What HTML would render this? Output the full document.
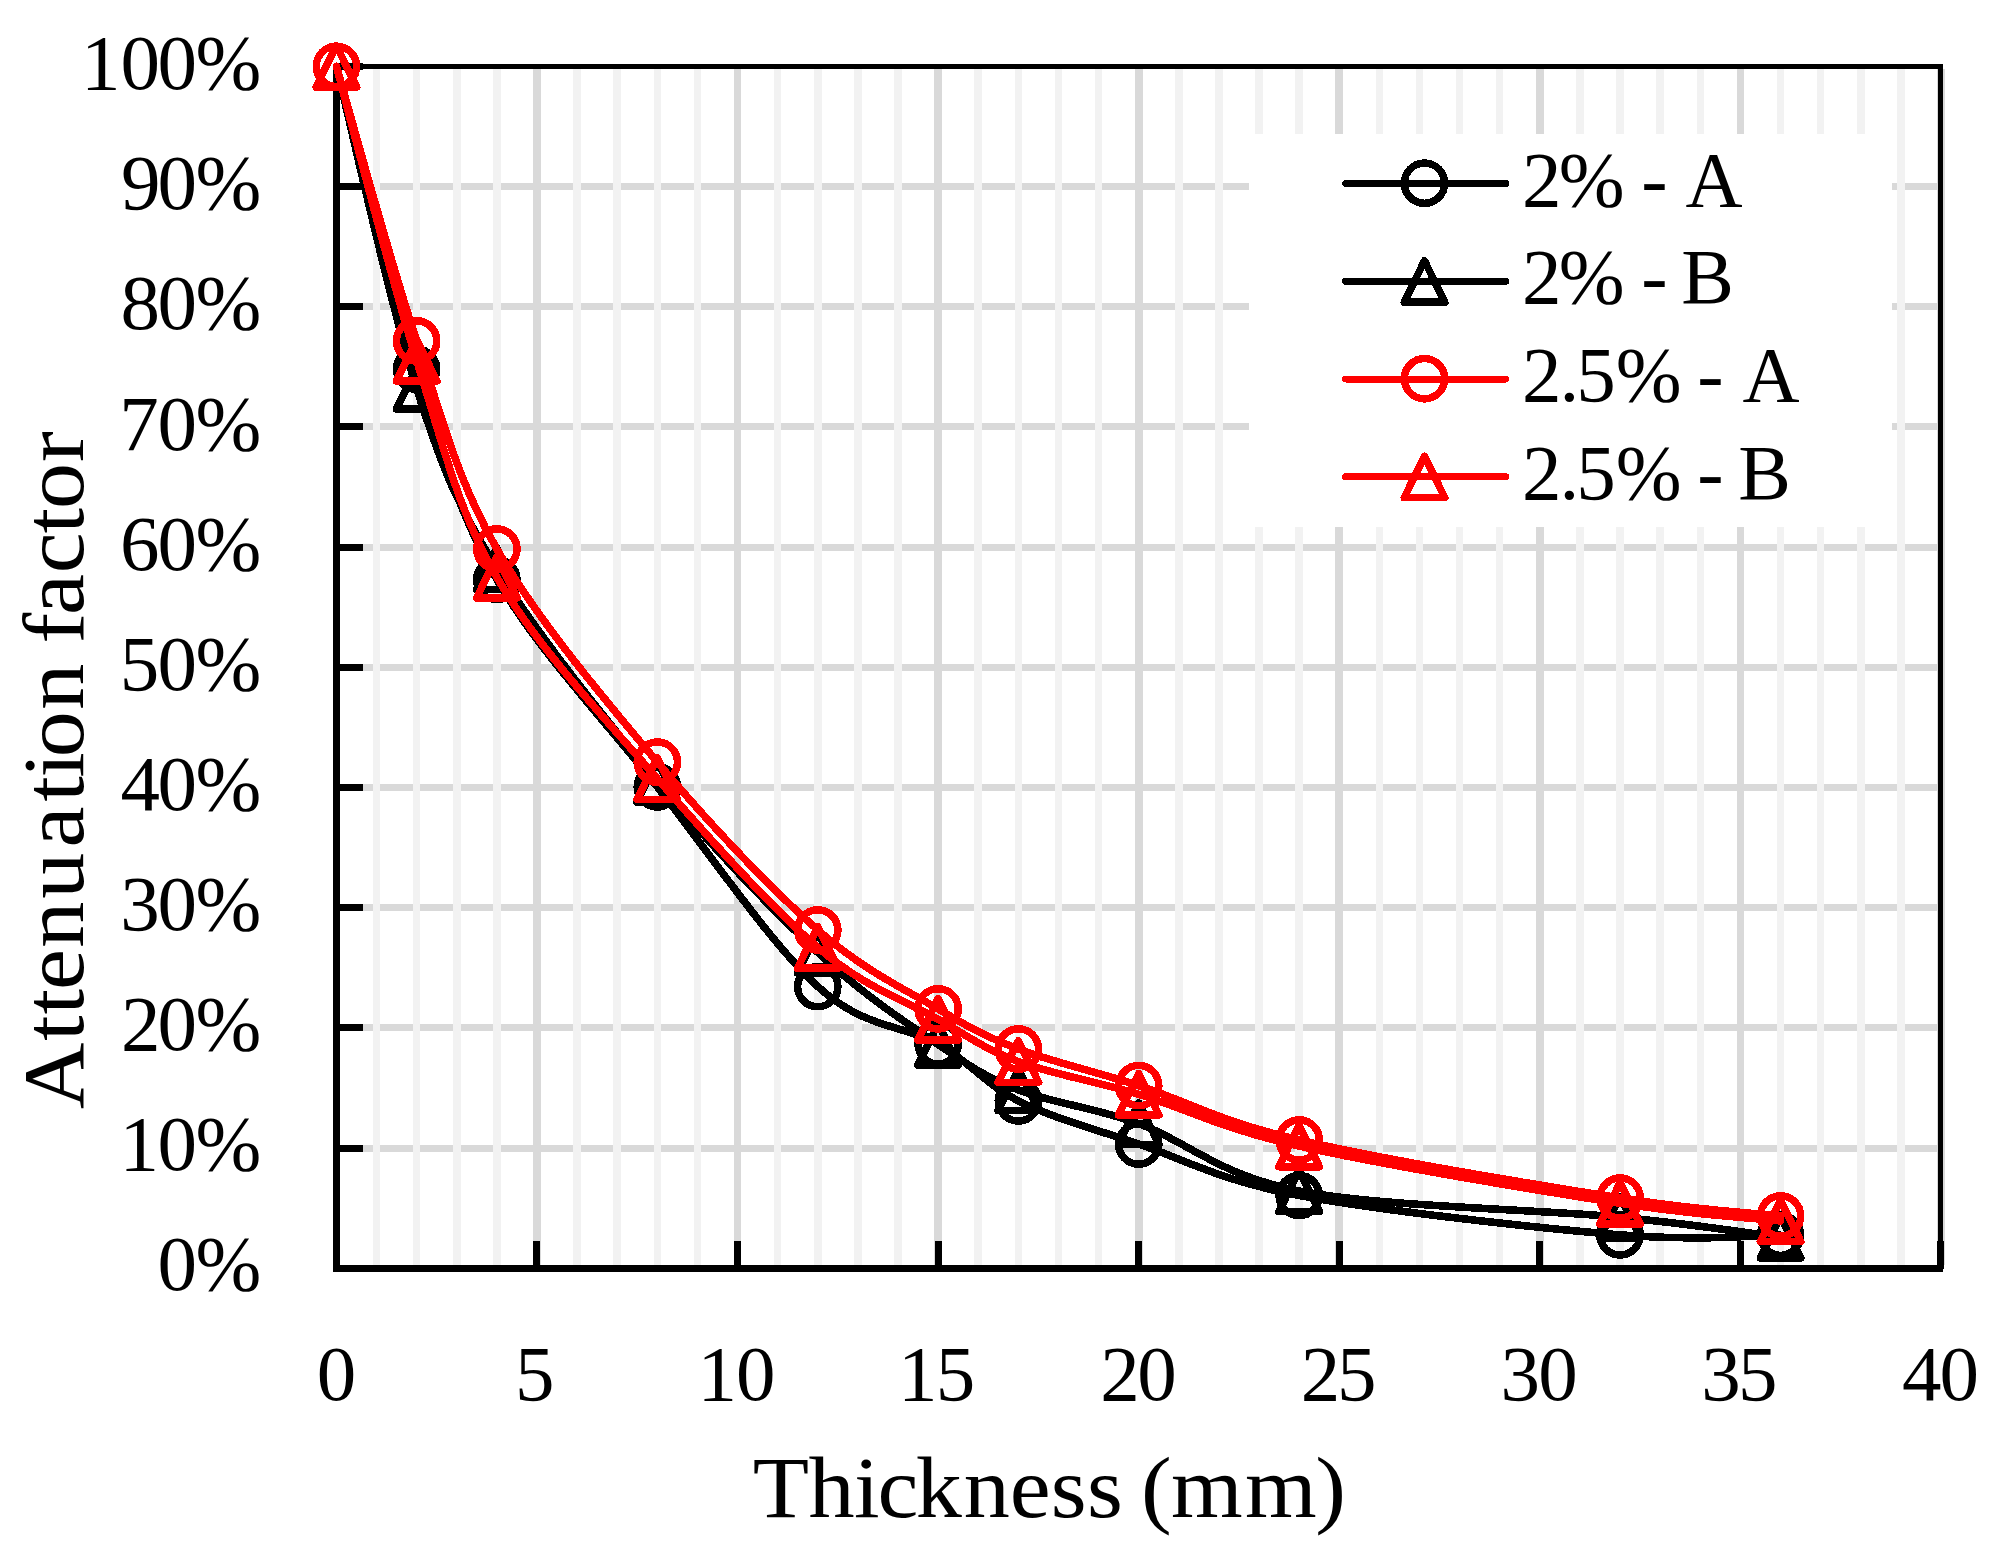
<!DOCTYPE html>
<html lang="en"><head><meta charset="utf-8"><title>Attenuation factor vs Thickness</title>
<style>html,body{margin:0;padding:0;background:#fff}svg{display:block}text{font-family:'Liberation Serif', serif;fill:#000}</style>
</head><body>
<svg width="2010" height="1561" viewBox="0 0 2010 1561">
<rect width="2010" height="1561" fill="#fff"/>
<g stroke="#d9d9d9" stroke-width="7" fill="none" shape-rendering="crispEdges">
<path d="M340 1148 H1937"/>
<path d="M340 1027.5 H1937"/>
<path d="M340 907.5 H1937"/>
<path d="M340 787.5 H1937"/>
<path d="M340 667.5 H1937"/>
<path d="M340 547.5 H1937"/>
<path d="M340 426.5 H1937"/>
<path d="M340 306.5 H1937"/>
<path d="M340 186.5 H1937"/>
</g>
<g stroke="#f2f2f2" stroke-width="7.5" fill="none" shape-rendering="crispEdges">
<path d="M376.51 69 V1265"/>
<path d="M416.63 69 V1265"/>
<path d="M456.75 69 V1265"/>
<path d="M496.86 69 V1265"/>
<path d="M577.09 69 V1265"/>
<path d="M617.2 69 V1265"/>
<path d="M657.32 69 V1265"/>
<path d="M697.43 69 V1265"/>
<path d="M777.66 69 V1265"/>
<path d="M817.78 69 V1265"/>
<path d="M857.89 69 V1265"/>
<path d="M898.01 69 V1265"/>
<path d="M978.24 69 V1265"/>
<path d="M1018.36 69 V1265"/>
<path d="M1058.47 69 V1265"/>
<path d="M1098.59 69 V1265"/>
<path d="M1178.82 69 V1265"/>
<path d="M1218.93 69 V1265"/>
<path d="M1259.05 69 V1265"/>
<path d="M1299.16 69 V1265"/>
<path d="M1379.39 69 V1265"/>
<path d="M1419.51 69 V1265"/>
<path d="M1459.62 69 V1265"/>
<path d="M1499.74 69 V1265"/>
<path d="M1579.97 69 V1265"/>
<path d="M1620.08 69 V1265"/>
<path d="M1660.2 69 V1265"/>
<path d="M1700.31 69 V1265"/>
<path d="M1780.54 69 V1265"/>
<path d="M1820.66 69 V1265"/>
<path d="M1860.77 69 V1265"/>
<path d="M1900.89 69 V1265"/>
</g>
<g stroke="#d9d9d9" stroke-width="7.8" fill="none" shape-rendering="crispEdges">
<path d="M536.98 69 V1265"/>
<path d="M737.55 69 V1265"/>
<path d="M938.12 69 V1265"/>
<path d="M1138.7 69 V1265"/>
<path d="M1339.28 69 V1265"/>
<path d="M1539.85 69 V1265"/>
<path d="M1740.43 69 V1265"/>
<path d="M1941 69 V1265"/>
</g>
<rect x="1249" y="134" width="643" height="393" fill="#fff"/>
<rect x="336.5" y="66.5" width="1604" height="1202" fill="none" stroke="#000" stroke-width="5" shape-rendering="crispEdges"/>
<g stroke="#000" stroke-width="7" fill="none" shape-rendering="crispEdges">
<path d="M336.5 64 V1272"/>
<path d="M333 1268.5 H1943"/>
<path d="M336.5 1268.5 H363"/>
<path d="M336.5 1148 H363"/>
<path d="M336.5 1027.5 H363"/>
<path d="M336.5 907.5 H363"/>
<path d="M336.5 787.5 H363"/>
<path d="M336.5 667.5 H363"/>
<path d="M336.5 547.5 H363"/>
<path d="M336.5 426.5 H363"/>
<path d="M336.5 306.5 H363"/>
<path d="M336.5 186.5 H363"/>
<path d="M336.5 66.5 H363"/>
<path d="M336.5 1268.5 V1241"/>
<path d="M536.5 1268.5 V1241"/>
<path d="M737.5 1268.5 V1241"/>
<path d="M938.5 1268.5 V1241"/>
<path d="M1138.5 1268.5 V1241"/>
<path d="M1339.5 1268.5 V1241"/>
<path d="M1539.5 1268.5 V1241"/>
<path d="M1740.5 1268.5 V1241"/>
<path d="M1940.5 1268.5 V1241"/>
</g>
<g shape-rendering="crispEdges">
<path d="M336.4 66.3 C349.77 116.78 389.89 283.67 416.63 369.2 C443.37 454.73 456.75 509.88 496.86 579.5 C536.98 649.12 603.83 719.05 657.32 786.9 C710.81 854.75 770.98 943.77 817.78 986.6 C864.58 1029.43 904.7 1024.85 938.12 1043.9 C971.55 1062.95 984.93 1084.22 1018.36 1100.9 C1051.78 1117.58 1091.9 1128.23 1138.7 1144 C1185.5 1159.77 1218.93 1180.35 1299.16 1195.5 C1379.39 1210.65 1539.85 1228.28 1620.08 1234.9 C1700.31 1241.52 1753.8 1235.15 1780.54 1235.2" fill="none" stroke="#000" stroke-width="7.6" stroke-linecap="round" stroke-linejoin="round"/>
<circle cx="336.4" cy="66.3" r="20.15" fill="none" stroke="#000" stroke-width="7.5"/>
<circle cx="416.63" cy="369.2" r="20.15" fill="none" stroke="#000" stroke-width="7.5"/>
<circle cx="496.86" cy="579.5" r="20.15" fill="none" stroke="#000" stroke-width="7.5"/>
<circle cx="657.32" cy="786.9" r="20.15" fill="none" stroke="#000" stroke-width="7.5"/>
<circle cx="817.78" cy="986.6" r="20.15" fill="none" stroke="#000" stroke-width="7.5"/>
<circle cx="938.12" cy="1043.9" r="20.15" fill="none" stroke="#000" stroke-width="7.5"/>
<circle cx="1018.36" cy="1100.9" r="20.15" fill="none" stroke="#000" stroke-width="7.5"/>
<circle cx="1138.7" cy="1144" r="20.15" fill="none" stroke="#000" stroke-width="7.5"/>
<circle cx="1299.16" cy="1195.5" r="20.15" fill="none" stroke="#000" stroke-width="7.5"/>
<circle cx="1620.08" cy="1234.9" r="20.15" fill="none" stroke="#000" stroke-width="7.5"/>
<circle cx="1780.54" cy="1235.2" r="20.15" fill="none" stroke="#000" stroke-width="7.5"/>
</g>
<g shape-rendering="crispEdges">
<path d="M336.4 66.3 C349.77 119.98 389.89 304.65 416.63 388.4 C443.37 472.15 456.75 503.28 496.86 568.8 C536.98 634.32 603.83 717.57 657.32 781.5 C710.81 845.43 770.98 908.58 817.78 952.4 C864.58 996.22 904.7 1021.48 938.12 1044.4 C971.55 1067.32 984.93 1076.7 1018.36 1089.9 C1051.78 1103.1 1091.9 1106.75 1138.7 1123.6 C1185.5 1140.45 1218.93 1175.4 1299.16 1191 C1379.39 1206.6 1539.85 1209.48 1620.08 1217.2 C1700.31 1224.92 1753.8 1233.95 1780.54 1237.3" fill="none" stroke="#000" stroke-width="7.6" stroke-linecap="round" stroke-linejoin="round"/>
<path d="M336.4 45.6 L356.7 87 L316.1 87 Z" fill="none" stroke="#000" stroke-width="7.5" stroke-linejoin="round"/>
<path d="M416.63 367.7 L436.93 409.1 L396.33 409.1 Z" fill="none" stroke="#000" stroke-width="7.5" stroke-linejoin="round"/>
<path d="M496.86 548.1 L517.16 589.5 L476.56 589.5 Z" fill="none" stroke="#000" stroke-width="7.5" stroke-linejoin="round"/>
<path d="M657.32 760.8 L677.62 802.2 L637.02 802.2 Z" fill="none" stroke="#000" stroke-width="7.5" stroke-linejoin="round"/>
<path d="M817.78 931.7 L838.08 973.1 L797.48 973.1 Z" fill="none" stroke="#000" stroke-width="7.5" stroke-linejoin="round"/>
<path d="M938.12 1023.7 L958.42 1065.1 L917.83 1065.1 Z" fill="none" stroke="#000" stroke-width="7.5" stroke-linejoin="round"/>
<path d="M1018.36 1069.2 L1038.65 1110.6 L998.06 1110.6 Z" fill="none" stroke="#000" stroke-width="7.5" stroke-linejoin="round"/>
<path d="M1138.7 1102.9 L1159 1144.3 L1118.4 1144.3 Z" fill="none" stroke="#000" stroke-width="7.5" stroke-linejoin="round"/>
<path d="M1299.16 1170.3 L1319.46 1211.7 L1278.86 1211.7 Z" fill="none" stroke="#000" stroke-width="7.5" stroke-linejoin="round"/>
<path d="M1620.08 1196.5 L1640.38 1237.9 L1599.78 1237.9 Z" fill="none" stroke="#000" stroke-width="7.5" stroke-linejoin="round"/>
<path d="M1780.54 1216.6 L1800.84 1258 L1760.24 1258 Z" fill="none" stroke="#000" stroke-width="7.5" stroke-linejoin="round"/>
</g>
<g shape-rendering="crispEdges">
<path d="M336.4 66.3 C349.77 112.07 389.89 260.45 416.63 340.9 C443.37 421.35 456.75 478.8 496.86 549 C536.98 619.2 603.83 698.6 657.32 762.1 C710.81 825.6 770.98 888.87 817.78 930 C864.58 971.13 904.7 989.07 938.12 1008.9 C971.55 1028.73 984.93 1036.22 1018.36 1049 C1051.78 1061.78 1091.9 1070.43 1138.7 1085.6 C1185.5 1100.77 1218.93 1121.27 1299.16 1140 C1379.39 1158.73 1539.85 1185.33 1620.08 1198 C1700.31 1210.67 1753.8 1213 1780.54 1216" fill="none" stroke="#f00" stroke-width="7.6" stroke-linecap="round" stroke-linejoin="round"/>
<circle cx="336.4" cy="66.3" r="20.15" fill="none" stroke="#f00" stroke-width="7.5"/>
<circle cx="416.63" cy="340.9" r="20.15" fill="none" stroke="#f00" stroke-width="7.5"/>
<circle cx="496.86" cy="549" r="20.15" fill="none" stroke="#f00" stroke-width="7.5"/>
<circle cx="657.32" cy="762.1" r="20.15" fill="none" stroke="#f00" stroke-width="7.5"/>
<circle cx="817.78" cy="930" r="20.15" fill="none" stroke="#f00" stroke-width="7.5"/>
<circle cx="938.12" cy="1008.9" r="20.15" fill="none" stroke="#f00" stroke-width="7.5"/>
<circle cx="1018.36" cy="1049" r="20.15" fill="none" stroke="#f00" stroke-width="7.5"/>
<circle cx="1138.7" cy="1085.6" r="20.15" fill="none" stroke="#f00" stroke-width="7.5"/>
<circle cx="1299.16" cy="1140" r="20.15" fill="none" stroke="#f00" stroke-width="7.5"/>
<circle cx="1620.08" cy="1198" r="20.15" fill="none" stroke="#f00" stroke-width="7.5"/>
<circle cx="1780.54" cy="1216" r="20.15" fill="none" stroke="#f00" stroke-width="7.5"/>
</g>
<g shape-rendering="crispEdges">
<path d="M336.4 66.3 C349.77 115.3 389.89 275.13 416.63 360.3 C443.37 445.47 456.75 507.57 496.86 577.3 C536.98 647.03 603.83 717 657.32 778.7 C710.81 840.4 770.98 907.4 817.78 947.5 C864.58 987.6 904.7 1000.28 938.12 1019.3 C971.55 1038.32 984.93 1049.1 1018.36 1061.6 C1051.78 1074.1 1091.9 1080.22 1138.7 1094.3 C1185.5 1108.38 1218.93 1127.93 1299.16 1146.1 C1379.39 1164.27 1539.85 1190.83 1620.08 1203.3 C1700.31 1215.77 1753.8 1217.97 1780.54 1220.9" fill="none" stroke="#f00" stroke-width="7.6" stroke-linecap="round" stroke-linejoin="round"/>
<path d="M336.4 45.6 L356.7 87 L316.1 87 Z" fill="none" stroke="#f00" stroke-width="7.5" stroke-linejoin="round"/>
<path d="M416.63 339.6 L436.93 381 L396.33 381 Z" fill="none" stroke="#f00" stroke-width="7.5" stroke-linejoin="round"/>
<path d="M496.86 556.6 L517.16 598 L476.56 598 Z" fill="none" stroke="#f00" stroke-width="7.5" stroke-linejoin="round"/>
<path d="M657.32 758 L677.62 799.4 L637.02 799.4 Z" fill="none" stroke="#f00" stroke-width="7.5" stroke-linejoin="round"/>
<path d="M817.78 926.8 L838.08 968.2 L797.48 968.2 Z" fill="none" stroke="#f00" stroke-width="7.5" stroke-linejoin="round"/>
<path d="M938.12 998.6 L958.42 1040 L917.83 1040 Z" fill="none" stroke="#f00" stroke-width="7.5" stroke-linejoin="round"/>
<path d="M1018.36 1040.9 L1038.65 1082.3 L998.06 1082.3 Z" fill="none" stroke="#f00" stroke-width="7.5" stroke-linejoin="round"/>
<path d="M1138.7 1073.6 L1159 1115 L1118.4 1115 Z" fill="none" stroke="#f00" stroke-width="7.5" stroke-linejoin="round"/>
<path d="M1299.16 1125.4 L1319.46 1166.8 L1278.86 1166.8 Z" fill="none" stroke="#f00" stroke-width="7.5" stroke-linejoin="round"/>
<path d="M1620.08 1182.6 L1640.38 1224 L1599.78 1224 Z" fill="none" stroke="#f00" stroke-width="7.5" stroke-linejoin="round"/>
<path d="M1780.54 1200.2 L1800.84 1241.6 L1760.24 1241.6 Z" fill="none" stroke="#f00" stroke-width="7.5" stroke-linejoin="round"/>
</g>
<g shape-rendering="crispEdges">
<path d="M1345.6 183.5 H1505.8" stroke="#000" stroke-width="7" stroke-linecap="round" fill="none"/>
<circle cx="1424.5" cy="183.2" r="20.15" fill="none" stroke="#000" stroke-width="7.5"/>
</g>
<text x="1521.99 1558.7 1624.5 1641.21 1667.52 1685.48" y="205.6" font-size="79">2% - A</text>
<g shape-rendering="crispEdges">
<path d="M1345.6 281.3 H1505.8" stroke="#000" stroke-width="7" stroke-linecap="round" fill="none"/>
<path d="M1424.5 260.8 L1444.8 302.2 L1404.2 302.2 Z" fill="none" stroke="#000" stroke-width="7.5" stroke-linejoin="round"/>
</g>
<text x="1521.99 1558.7 1624.5 1641.21 1667.52 1681.14" y="303.4" font-size="79">2% - B</text>
<g shape-rendering="crispEdges">
<path d="M1345.6 379 H1505.8" stroke="#f00" stroke-width="7" stroke-linecap="round" fill="none"/>
<circle cx="1424.5" cy="378.7" r="20.15" fill="none" stroke="#f00" stroke-width="7.5"/>
</g>
<text x="1521.99 1559.42 1576.2 1615.8 1681.6 1697.31 1723.62 1742.58" y="401.1" font-size="79">2.5% - A</text>
<g shape-rendering="crispEdges">
<path d="M1345.6 476.8 H1505.8" stroke="#f00" stroke-width="7" stroke-linecap="round" fill="none"/>
<path d="M1424.5 456.3 L1444.8 497.7 L1404.2 497.7 Z" fill="none" stroke="#f00" stroke-width="7.5" stroke-linejoin="round"/>
</g>
<text x="1521.99 1559.42 1576.2 1615.8 1681.6 1697.31 1723.62 1738.14" y="498.9" font-size="79">2.5% - B</text>
<text x="157.6 195.5" y="1290.2" font-size="79">0%</text>
<text x="119.5 157.6 195.5" y="1170.11" font-size="79">10%</text>
<text x="121.04 157.6 195.5" y="1050.02" font-size="79">20%</text>
<text x="120.25 157.6 195.5" y="929.93" font-size="79">30%</text>
<text x="120.45 157.6 195.5" y="809.84" font-size="79">40%</text>
<text x="119.85 157.6 195.5" y="689.75" font-size="79">50%</text>
<text x="120.08 157.6 195.5" y="569.66" font-size="79">60%</text>
<text x="119.13 157.6 195.5" y="449.57" font-size="79">70%</text>
<text x="120.6 157.6 195.5" y="329.48" font-size="79">80%</text>
<text x="120.95 157.6 195.5" y="209.39" font-size="79">90%</text>
<text x="81 120.6 157.6 195.5" y="89.3" font-size="79">100%</text>
<text x="316.85" y="1400" font-size="79">0</text>
<text x="515.07" y="1400" font-size="79">5</text>
<text x="697.5 736" y="1400" font-size="79">10</text>
<text x="898.08 935.82" y="1400" font-size="79">15</text>
<text x="1100.19 1137.15" y="1400" font-size="79">20</text>
<text x="1300.77 1336.97" y="1400" font-size="79">25</text>
<text x="1500.55 1538.3" y="1400" font-size="79">30</text>
<text x="1701.13 1738.12" y="1400" font-size="79">35</text>
<text x="1901.9 1939.45" y="1400" font-size="79">40</text>
<text transform="scale(1.06 1)" x="710.2 762.74 805.61 827.78 863.93 909.23 952.58 991.35 1025.59 1059.45 1076.47 1104.75 1174.61 1240.74" y="1517" font-size="87">Thickness (mm)</text>
<text transform="translate(83 0) rotate(-90) scale(1.06 1)" x="-1046.57 -982.16 -957.11 -933.98 -894.12 -847.81 -799.49 -756.45 -733.63 -714.3 -669.59 -626.09 -607.1 -580.29 -540.81 -503.34 -480.1 -435.92" y="0" font-size="87">Attenuation factor</text>
</svg></body></html>
